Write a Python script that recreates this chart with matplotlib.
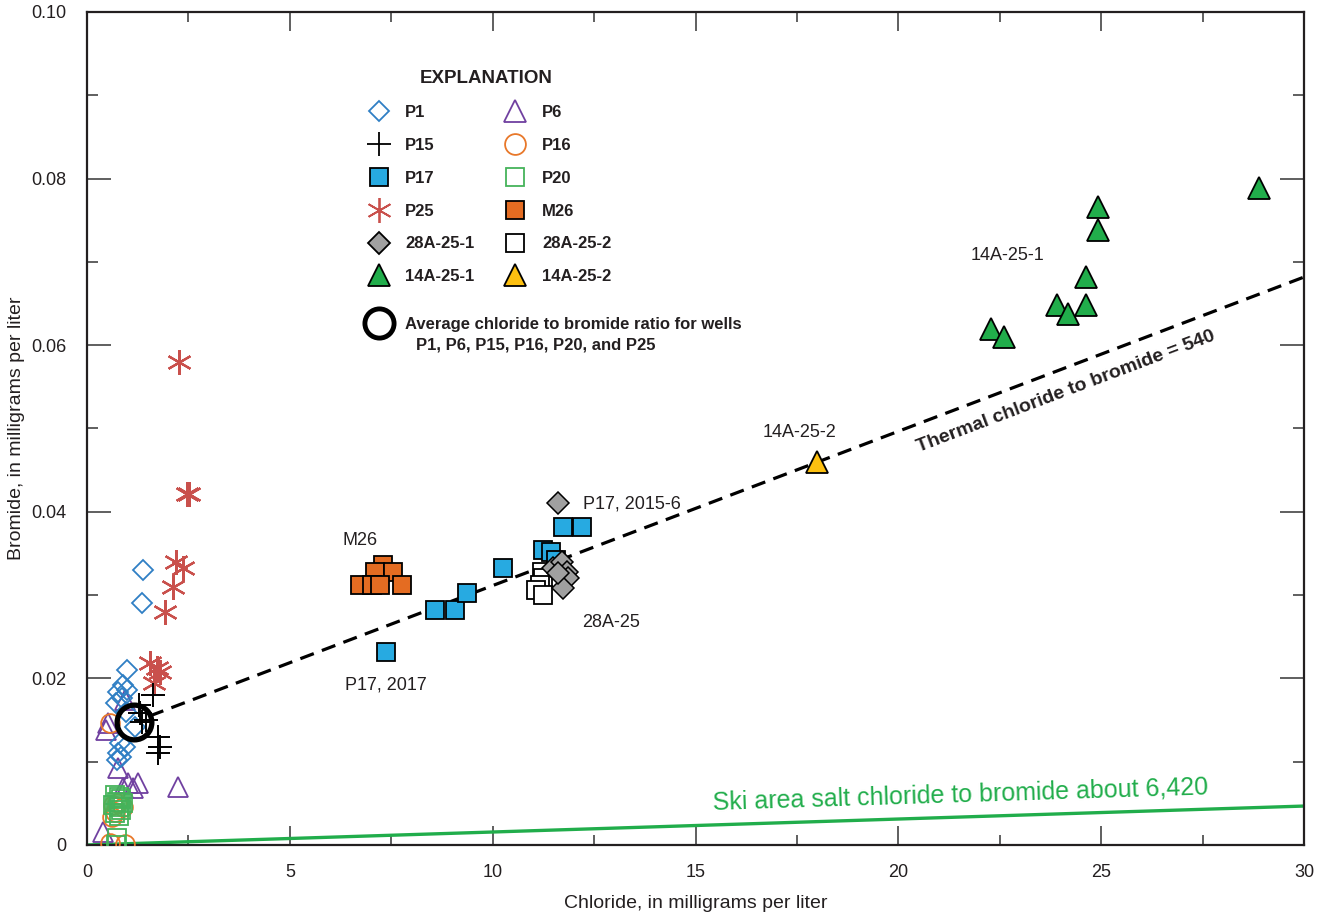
import numpy as np
import matplotlib
matplotlib.use("Agg")
import matplotlib.pyplot as plt
from matplotlib.lines import Line2D
from matplotlib.ticker import MultipleLocator, FuncFormatter

plt.rcParams['font.family'] = ['Liberation Sans', 'DejaVu Sans']

# chloride (x) and bromide (y), mg/L
p1_cl = [1.38, 1.35, 0.98, 0.89, 0.77, 0.98, 0.86, 0.72, 0.95, 1.18, 0.81, 0.94, 0.77, 0.85, 0.73]
p1_br = [0.0330, 0.0290, 0.0210, 0.0192, 0.0184, 0.0186, 0.0177, 0.0170, 0.0160, 0.0142, 0.0123, 0.0118, 0.0110, 0.0106, 0.0102]

p6_cl = [0.52, 0.47, 0.94, 0.77, 1.01, 1.25, 1.13, 0.89, 2.24, 0.40]
p6_br = [0.0146, 0.0138, 0.0174, 0.0092, 0.0074, 0.0074, 0.0068, 0.0068, 0.0070, 0.0016]

p15_cl = [1.27, 1.63, 1.31, 1.35, 1.76, 1.80, 1.75, 1.45]
p15_br = [0.0168, 0.0180, 0.0158, 0.0148, 0.0130, 0.0118, 0.0111, 0.0150]

p16_cl = [0.57, 0.64, 0.75, 0.90, 0.70, 0.62, 0.57, 0.94]
p16_br = [0.0146, 0.0048, 0.0050, 0.0046, 0.0040, 0.0034, 0.0002, 0.0001]

p20_cl = [0.70, 0.80, 0.85, 0.75, 0.90, 0.65, 0.78, 0.85, 0.70, 0.80, 0.75, 0.72]
p20_br = [0.0060, 0.0058, 0.0055, 0.0052, 0.0050, 0.0048, 0.0045, 0.0042, 0.0038, 0.0035, 0.0008, 0.0000]

p25_cl = [2.27, 2.47, 2.52, 2.20, 2.36, 2.13, 1.93, 1.56, 1.72, 1.64, 1.80]
p25_br = [0.0580, 0.0421, 0.0421, 0.0340, 0.0332, 0.0310, 0.0280, 0.0219, 0.0213, 0.0195, 0.0208]

p17_cl = [7.37, 8.58, 9.07, 9.36, 10.26, 11.25, 11.45, 11.55, 11.73, 12.19]
p17_br = [0.0232, 0.0282, 0.0282, 0.0302, 0.0333, 0.0354, 0.0352, 0.0342, 0.0382, 0.0382]

m26_cl = [7.30, 7.10, 7.55, 6.73, 7.02, 7.22, 7.76]
m26_br = [0.0336, 0.0328, 0.0328, 0.0312, 0.0312, 0.0312, 0.0312]

w28a1_cl = [11.61, 11.49, 11.70, 11.83, 11.86, 11.74, 11.61]
w28a1_br = [0.0411, 0.0333, 0.0340, 0.0328, 0.0321, 0.0309, 0.0327]

w28a2_cl = [11.21, 11.24, 11.17, 11.08, 11.24]
w28a2_br = [0.0328, 0.0321, 0.0312, 0.0306, 0.0300]

w14a1_cl = [24.93, 24.93, 24.62, 23.92, 24.19, 24.62, 22.28, 22.60, 28.90]
w14a1_br = [0.0766, 0.0738, 0.0682, 0.0648, 0.0638, 0.0648, 0.0620, 0.0610, 0.0789]

w14a2_cl = [17.99]
w14a2_br = [0.0460]

avg_cl, avg_br = 1.16, 0.01477
thermal_ratio = 540
ski_ratio = 6420

fig = plt.figure(figsize=(13.2, 9.13), dpi=100)
ax = fig.add_axes([0.0659, 0.0745, 0.922, 0.9124])

# mixing lines
x_th = np.array([1.55, 30])
ax.plot(x_th, avg_br + (x_th - avg_cl) / thermal_ratio, color='black', lw=2.3,
        linestyle=(0, (4.5, 2.7)), zorder=2)
x_ski = np.array([0, 30])
ax.plot(x_ski, x_ski / ski_ratio, color='#21ad4b', lw=2.4, zorder=2)

asterisk = (6, 2, 0)
ax.plot(p6_cl, p6_br, '^', ms=14, mfc='none', mec='#7040a0', mew=1.3, ls='none', zorder=3)
ax.plot(p16_cl, p16_br, 'o', ms=13.5, mfc='none', mec='#e8782a', mew=1.3, ls='none', zorder=3)
ax.plot(p20_cl, p20_br, 's', ms=13, mfc='none', mec='#45b35a', mew=1.3, ls='none', zorder=4)
ax.plot(p1_cl, p1_br, 'D', ms=10.5, mfc='none', mec='#2f7fc4', mew=1.3, ls='none', zorder=4)
ax.plot(p25_cl, p25_br, marker=asterisk, ms=18, mec='#c9504c', mew=1.6, ls='none', zorder=4)
ax.plot(p15_cl, p15_br, '+', ms=17, mec='black', mew=1.4, ls='none', zorder=5)
ax.plot(m26_cl, m26_br, 's', ms=13.5, mfc='#e46c22', mec='black', mew=1.3, ls='none', zorder=4)
ax.plot(p17_cl, p17_br, 's', ms=13.5, mfc='#27aae1', mec='black', mew=1.3, ls='none', zorder=4)
ax.plot(w28a2_cl, w28a2_br, 's', ms=13.5, mfc='white', mec='black', mew=1.3, ls='none', zorder=5)
ax.plot(w28a1_cl, w28a1_br, 'D', ms=11, mfc='#a0a0a0', mec='black', mew=1.1, ls='none', zorder=6)
ax.plot(w14a1_cl, w14a1_br, '^', ms=16, mfc='#21ad4b', mec='black', mew=1.3, ls='none', zorder=4)
ax.plot(w14a2_cl, w14a2_br, '^', ms=16, mfc='#fdc010', mec='black', mew=1.3, ls='none', zorder=4)
ax.plot([avg_cl], [avg_br], 'o', ms=25, mfc='none', mec='black', mew=3.8, ls='none', zorder=7)

# annotations
lab = dict(fontsize=13, color='#231f20')
ax.text(6.73, 0.0366, 'M26', ha='center', va='center', **lab)
ax.text(7.37, 0.0192, 'P17, 2017', ha='center', va='center', **lab)
ax.text(12.23, 0.0409, 'P17, 2015-6', ha='left', va='center', **lab)
ax.text(12.20, 0.0267, '28A-25', ha='left', va='center', **lab)
ax.text(17.57, 0.0495, '14A-25-2', ha='center', va='center', **lab)
ax.text(22.70, 0.0708, '14A-25-1', ha='center', va='center', **lab)
ax.text(24.13, 0.0544, 'Thermal chloride to bromide = 540', ha='center', va='center',
        rotation=20.7, fontsize=14, fontweight='bold', color='#231f20')
ax.text(21.52, 0.0060, 'Ski area salt chloride to bromide about 6,420', ha='center',
        va='center', rotation=1.8, fontsize=18, color='#21ad4b')

# legend
handles = [
    Line2D([], [], marker='D', ms=10.5, mfc='none', mec='#2f7fc4', mew=1.3, ls='none', label='P1'),
    Line2D([], [], marker='+', ms=17, mec='black', mew=1.3, ls='none', label='P15'),
    Line2D([], [], marker='s', ms=13.5, mfc='#27aae1', mec='black', mew=1.3, ls='none', label='P17'),
    Line2D([], [], marker=asterisk, ms=18, mec='#c9504c', mew=1.3, ls='none', label='P25'),
    Line2D([], [], marker='D', ms=11, mfc='#a0a0a0', mec='black', mew=1.3, ls='none', label='28A-25-1'),
    Line2D([], [], marker='^', ms=16, mfc='#21ad4b', mec='black', mew=1.3, ls='none', label='14A-25-1'),
    Line2D([], [], marker='^', ms=16, mfc='none', mec='#7040a0', mew=1.3, ls='none', label='P6'),
    Line2D([], [], marker='o', ms=15, mfc='none', mec='#e8782a', mew=1.3, ls='none', label='P16'),
    Line2D([], [], marker='s', ms=13.5, mfc='none', mec='#45b35a', mew=1.3, ls='none', label='P20'),
    Line2D([], [], marker='s', ms=13.5, mfc='#e46c22', mec='black', mew=1.3, ls='none', label='M26'),
    Line2D([], [], marker='s', ms=13.5, mfc='white', mec='black', mew=1.3, ls='none', label='28A-25-2'),
    Line2D([], [], marker='^', ms=16, mfc='#fdc010', mec='black', mew=1.3, ls='none', label='14A-25-2'),
]
leg = ax.legend(handles=handles, ncol=2, frameon=False, loc='upper left',
                bbox_to_anchor=(0.219, 0.94), title='EXPLANATION',
                prop={'weight': 'bold', 'size': 12},
                title_fontproperties={'weight': 'bold', 'size': 13.5},
                labelspacing=1.07, handletextpad=0.6, columnspacing=1.45,
                handlelength=2.0, borderpad=0)
leg.get_title().set_color('#231f20')
for t in leg.get_texts():
    t.set_color('#231f20')
ax.add_artist(leg)

circ = Line2D([], [], marker='o', ms=21, mfc='none', mec='black', mew=3.5, ls='none',
              label='Average chloride to bromide ratio for wells')
leg2 = ax.legend(handles=[circ], frameon=False, loc='upper left',
                 bbox_to_anchor=(0.219, 0.644), prop={'weight': 'bold', 'size': 12},
                 handletextpad=0.6, handlelength=2.0, borderpad=0)
for t in leg2.get_texts():
    t.set_color('#231f20')
ax.text(0.2703, 0.6002, 'P1, P6, P15, P16, P20, and P25', transform=ax.transAxes,
        ha='left', va='center', fontsize=12, fontweight='bold', color='#231f20')

# axes
ax.set_xlim(0, 30)
ax.set_ylim(0, 0.10)
ax.xaxis.set_major_locator(MultipleLocator(5))
ax.xaxis.set_minor_locator(MultipleLocator(2.5))
ax.yaxis.set_major_locator(MultipleLocator(0.02))
ax.yaxis.set_minor_locator(MultipleLocator(0.01))
ax.yaxis.set_major_formatter(FuncFormatter(lambda v, p: '0' if abs(v) < 1e-9 else f'{v:.2f}'))
ax.tick_params(axis='both', which='both', direction='in', top=True, right=True,
               color='#444444', width=1.2, labelsize=13, labelcolor='#231f20')
ax.tick_params(axis='x', which='major', length=14, pad=14)
ax.tick_params(axis='x', which='minor', length=7)
ax.tick_params(axis='y', which='major', length=17, pad=15)
ax.tick_params(axis='y', which='minor', length=8)
for s in ax.spines.values():
    s.set_linewidth(1.6)
    s.set_color('#231f20')

ax.set_xlabel('Chloride, in milligrams per liter', fontsize=14, color='#231f20', labelpad=10)
ax.set_ylabel('Bromide, in milligrams per liter', fontsize=14, color='#231f20', labelpad=4)

fig.savefig('out.png', dpi=100)
